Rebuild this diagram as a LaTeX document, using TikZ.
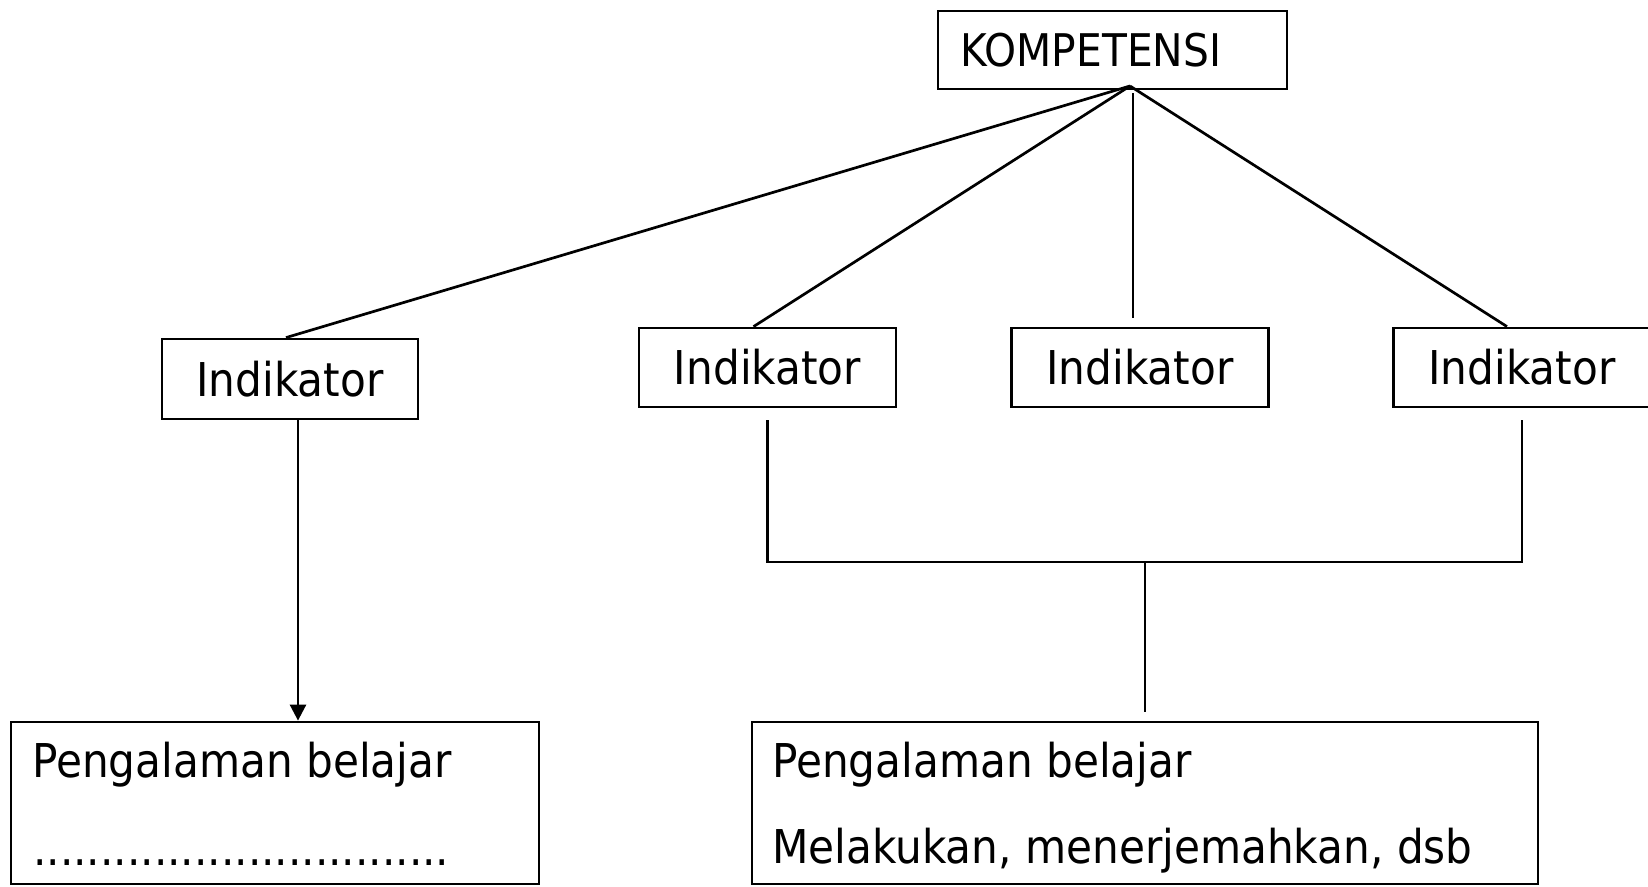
\documentclass[tikz,border=0pt]{standalone}
\usepackage{fontspec}
\setmainfont[FakeStretch=0.906]{DejaVu Sans}
\usetikzlibrary{arrows.meta}

\tikzset{
  kotak/.style={draw, line width=2.8pt, inner sep=0pt},
  ind/.style={kotak, minimum width=257pt, minimum height=79pt, font=\fontsize{46.6}{56}\selectfont},
  teks/.style={anchor=base west, inner sep=0pt, font=\fontsize{46.6}{56}\selectfont},
  garis/.style={line width=2.7pt}
}

\begin{document}
\begin{tikzpicture}[x=1pt, y=-1pt, >={Triangle[width=16pt,length=16pt]}]

  \useasboundingbox (0,0) rectangle (1648,886);

  % Kompetensi di atas
  \node[kotak, minimum height=78pt, text width=305pt, inner xsep=22pt, align=left,
        font=\fontsize{45}{54}\selectfont] (K) at (1112.5,50) {KOMPETENSI};
  \coordinate (top) at (1130,86);

  % Empat indikator
  \node[ind, minimum width=256pt, minimum height=80pt] (I1) at (290,379) {Indikator};
  \node[ind] (I2) at (767.5,367.5) {Indikator};
  \node[ind] (I3) at (1140,367.5) {Indikator};
  \node[ind] (I4) at (1522,367.5) {Indikator};

  % Garis dari kompetensi ke indikator
  \draw[garis] (top) -- ([xshift=-4pt]I1.north);
  \draw[garis] (top) -- ([xshift=-14pt]I2.north);
  \draw[garis] ([xshift=3pt,yshift=-7pt]top) -- ([xshift=-7pt,yshift=9pt]I3.north);
  \draw[garis] (top) -- ([xshift=-15pt]I4.north);

  % Kotak pengalaman belajar
  \node[kotak, minimum width=528pt, minimum height=162pt] (P1) at (275,803) {};
  \node[kotak, minimum width=786pt, minimum height=162pt] (P2) at (1145,803) {};

  \node[teks] (t1a) at (32,777) {Pengalaman belajar};
  \node[teks] (t1b) at (33,865) {...............................};
  \node[teks] (t2a) at (772,777) {Pengalaman belajar};
  \node[teks] (t2b) at (772,863) {Melakukan, menerjemahkan, dsb};

  % Panah indikator pertama
  \draw[garis, ->] ([xshift=8pt]I1.south) -- ([xshift=8pt]I1.south |- P1.north);

  % Kurung gabungan indikator 2 dan 4
  \coordinate (b1) at ([yshift=-12pt]I2.south);
  \coordinate (b2) at ([yshift=-12pt]I4.south);
  \coordinate (mid) at (1145,562);
  \coordinate (stem) at (1145,712);
  \draw[garis] (b1) |- (mid) -| (b2);
  \draw[garis] (mid) -- (stem);

\end{tikzpicture}
\end{document}
